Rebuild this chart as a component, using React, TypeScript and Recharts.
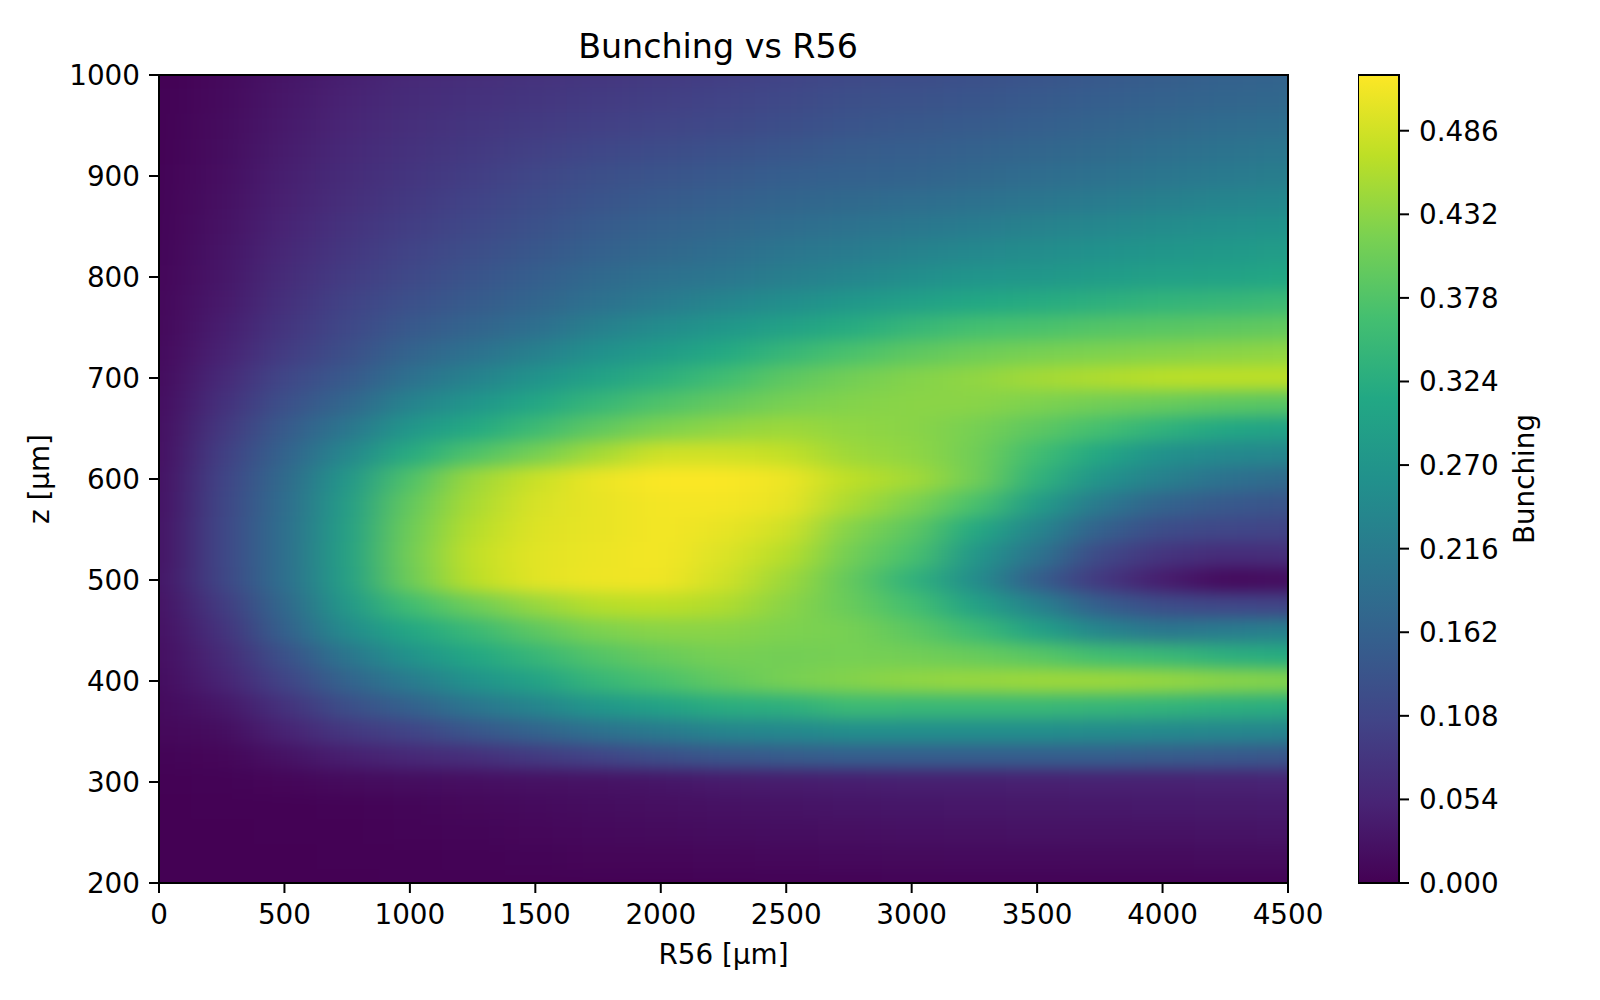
import { Bar, BarChart, ReferenceArea, Scatter, ScatterChart, XAxis, YAxis } from "recharts";

// --- Axes ---
const r56Values = [0, 250, 500, 750, 1000, 1250, 1500, 1750, 2000, 2250, 2500, 2750, 3000, 3250, 3500, 3750, 4000, 4250, 4500];
const xTicks = [0, 500, 1000, 1500, 2000, 2500, 3000, 3500, 4000, 4500];
const yTicks = [200, 300, 400, 500, 600, 700, 800, 900, 1000];
const colorbarTicks = [0, 0.054, 0.108, 0.162, 0.216, 0.27, 0.324, 0.378, 0.432, 0.486];
const colorbarMax = 0.522;

// --- Bunching, one row per z, columns follow r56Values ---
const z1000 = [0.000, 0.012, 0.030, 0.045, 0.060, 0.068, 0.075, 0.082, 0.088, 0.095, 0.105, 0.115, 0.120, 0.128, 0.135, 0.145, 0.152, 0.160, 0.165];
const z975 = [0.001, 0.014, 0.033, 0.050, 0.065, 0.074, 0.082, 0.090, 0.097, 0.104, 0.114, 0.125, 0.131, 0.138, 0.146, 0.155, 0.163, 0.170, 0.176];
const z950 = [0.002, 0.016, 0.036, 0.055, 0.070, 0.080, 0.089, 0.098, 0.106, 0.114, 0.124, 0.135, 0.143, 0.149, 0.157, 0.166, 0.175, 0.183, 0.190];
const z925 = [0.002, 0.018, 0.040, 0.060, 0.075, 0.087, 0.099, 0.111, 0.120, 0.129, 0.139, 0.150, 0.154, 0.162, 0.171, 0.180, 0.190, 0.198, 0.206];
const z900 = [0.003, 0.020, 0.044, 0.065, 0.080, 0.095, 0.110, 0.125, 0.135, 0.145, 0.155, 0.160, 0.165, 0.175, 0.185, 0.195, 0.205, 0.213, 0.222];
const z875 = [0.004, 0.022, 0.048, 0.070, 0.087, 0.103, 0.120, 0.135, 0.148, 0.158, 0.170, 0.178, 0.185, 0.195, 0.205, 0.215, 0.226, 0.235, 0.243];
const z850 = [0.005, 0.025, 0.053, 0.077, 0.095, 0.112, 0.130, 0.148, 0.162, 0.173, 0.185, 0.196, 0.207, 0.218, 0.229, 0.240, 0.250, 0.258, 0.266];
const z825 = [0.006, 0.028, 0.058, 0.084, 0.105, 0.123, 0.142, 0.160, 0.175, 0.188, 0.204, 0.215, 0.230, 0.243, 0.252, 0.263, 0.272, 0.280, 0.288];
const z800 = [0.008, 0.032, 0.065, 0.092, 0.115, 0.135, 0.155, 0.178, 0.195, 0.205, 0.222, 0.235, 0.255, 0.270, 0.275, 0.285, 0.295, 0.300, 0.310];
const z775 = [0.009, 0.036, 0.072, 0.102, 0.128, 0.148, 0.170, 0.195, 0.215, 0.235, 0.255, 0.275, 0.295, 0.310, 0.320, 0.330, 0.340, 0.345, 0.355];
const z750 = [0.010, 0.042, 0.080, 0.113, 0.145, 0.168, 0.190, 0.225, 0.250, 0.275, 0.298, 0.320, 0.345, 0.365, 0.370, 0.380, 0.385, 0.390, 0.395];
const z725 = [0.012, 0.049, 0.092, 0.126, 0.168, 0.195, 0.225, 0.260, 0.285, 0.315, 0.345, 0.370, 0.390, 0.405, 0.415, 0.420, 0.425, 0.430, 0.435];
const z700 = [0.015, 0.060, 0.110, 0.145, 0.195, 0.230, 0.265, 0.300, 0.330, 0.360, 0.390, 0.410, 0.425, 0.435, 0.450, 0.460, 0.468, 0.470, 0.470];
const z675 = [0.017, 0.072, 0.128, 0.172, 0.232, 0.270, 0.308, 0.345, 0.375, 0.395, 0.415, 0.425, 0.430, 0.430, 0.420, 0.410, 0.400, 0.390, 0.385];
const z650 = [0.019, 0.085, 0.148, 0.205, 0.275, 0.315, 0.355, 0.392, 0.420, 0.435, 0.445, 0.435, 0.430, 0.415, 0.390, 0.365, 0.335, 0.310, 0.300];
const z625 = [0.020, 0.096, 0.165, 0.240, 0.320, 0.375, 0.412, 0.450, 0.485, 0.485, 0.475, 0.445, 0.435, 0.410, 0.360, 0.310, 0.260, 0.245, 0.240];
const z600 = [0.022, 0.105, 0.180, 0.275, 0.375, 0.445, 0.480, 0.508, 0.520, 0.520, 0.510, 0.470, 0.450, 0.410, 0.335, 0.265, 0.225, 0.195, 0.180];
const z575 = [0.023, 0.108, 0.185, 0.288, 0.395, 0.455, 0.492, 0.505, 0.515, 0.515, 0.505, 0.455, 0.420, 0.370, 0.285, 0.210, 0.165, 0.145, 0.135];
const z550 = [0.025, 0.110, 0.190, 0.295, 0.405, 0.465, 0.497, 0.505, 0.515, 0.505, 0.485, 0.425, 0.390, 0.315, 0.235, 0.160, 0.120, 0.110, 0.105];
const z525 = [0.026, 0.110, 0.190, 0.298, 0.410, 0.475, 0.500, 0.508, 0.515, 0.495, 0.465, 0.410, 0.370, 0.275, 0.200, 0.115, 0.078, 0.065, 0.070];
const z500 = [0.028, 0.108, 0.190, 0.295, 0.405, 0.470, 0.500, 0.510, 0.512, 0.485, 0.445, 0.395, 0.335, 0.255, 0.155, 0.085, 0.040, 0.012, 0.018];
const z475 = [0.026, 0.090, 0.175, 0.280, 0.360, 0.405, 0.440, 0.465, 0.470, 0.460, 0.430, 0.400, 0.365, 0.300, 0.230, 0.155, 0.120, 0.110, 0.105];
const z450 = [0.023, 0.075, 0.160, 0.250, 0.310, 0.350, 0.390, 0.420, 0.430, 0.430, 0.420, 0.415, 0.390, 0.355, 0.300, 0.235, 0.205, 0.215, 0.225];
const z425 = [0.020, 0.062, 0.130, 0.205, 0.265, 0.310, 0.345, 0.380, 0.400, 0.415, 0.410, 0.415, 0.410, 0.400, 0.385, 0.360, 0.350, 0.330, 0.320];
const z400 = [0.017, 0.050, 0.105, 0.168, 0.215, 0.265, 0.300, 0.345, 0.370, 0.395, 0.415, 0.425, 0.435, 0.440, 0.445, 0.445, 0.440, 0.430, 0.425];
const z375 = [0.014, 0.032, 0.075, 0.125, 0.160, 0.205, 0.235, 0.275, 0.300, 0.325, 0.330, 0.355, 0.350, 0.350, 0.350, 0.345, 0.340, 0.330, 0.325];
const z350 = [0.010, 0.018, 0.050, 0.085, 0.105, 0.140, 0.165, 0.195, 0.212, 0.235, 0.242, 0.255, 0.255, 0.255, 0.255, 0.250, 0.245, 0.240, 0.235];
const z325 = [0.005, 0.008, 0.025, 0.045, 0.058, 0.070, 0.088, 0.105, 0.125, 0.140, 0.150, 0.155, 0.155, 0.155, 0.155, 0.155, 0.150, 0.145, 0.140];
const z300 = [0.002, 0.003, 0.008, 0.015, 0.018, 0.020, 0.024, 0.026, 0.030, 0.038, 0.040, 0.042, 0.044, 0.045, 0.046, 0.047, 0.048, 0.049, 0.050];
const z275 = [0.000, 0.001, 0.002, 0.003, 0.006, 0.010, 0.014, 0.018, 0.021, 0.024, 0.027, 0.030, 0.032, 0.033, 0.034, 0.035, 0.036, 0.037, 0.038];
const z250 = [0.000, 0.000, 0.001, 0.002, 0.004, 0.006, 0.009, 0.012, 0.015, 0.017, 0.019, 0.021, 0.023, 0.024, 0.025, 0.026, 0.026, 0.027, 0.028];
const z225 = [0.000, 0.000, 0.000, 0.001, 0.002, 0.003, 0.005, 0.007, 0.008, 0.009, 0.011, 0.012, 0.013, 0.014, 0.014, 0.015, 0.015, 0.016, 0.016];
const z200 = [0.000, 0.000, 0.000, 0.000, 0.001, 0.001, 0.002, 0.002, 0.002, 0.003, 0.003, 0.003, 0.004, 0.004, 0.004, 0.004, 0.005, 0.005, 0.005];

const rows: [number, number[]][] = [
  [1000, z1000], [975, z975], [950, z950], [925, z925], [900, z900], [875, z875], [850, z850], [825, z825],
  [800, z800], [775, z775], [750, z750], [725, z725], [700, z700], [675, z675], [650, z650], [625, z625],
  [600, z600], [575, z575], [550, z550], [525, z525], [500, z500], [475, z475], [450, z450], [425, z425],
  [400, z400], [375, z375], [350, z350], [325, z325], [300, z300], [275, z275], [250, z250], [225, z225], [200, z200],
];

const cells = rows.flatMap(([z, values]) =>
  values.map((bunching, i) => ({ r56: r56Values[i], z, bunching })),
);

// --- Colors ---
const VIRIDIS = ["#440154", "#482475", "#414487", "#355f8d", "#2a788e", "#21918c", "#22a884", "#44bf70", "#7ad151", "#bddf26", "#fde725"];

const hexToRgb = (hex: string) => [1, 3, 5].map((i) => parseInt(hex.slice(i, i + 2), 16));

const viridisColor = (value: number) => {
  const t = Math.min(value / colorbarMax, 1) * (VIRIDIS.length - 1);
  const i = Math.min(Math.floor(t), VIRIDIS.length - 2);
  const a = hexToRgb(VIRIDIS[i]);
  const b = hexToRgb(VIRIDIS[i + 1]);
  const mix = a.map((c, k) => Math.round(c + (b[k] - c) * (t - i)));
  return `rgb(${mix.join(",")})`;
};

// --- Layout ---
const PLOT = { left: 159, top: 75, right: 1288, bottom: 883 };
const CELL_W = (PLOT.right - PLOT.left) / (r56Values.length - 1);
const CELL_H = (PLOT.bottom - PLOT.top) / (rows.length - 1);
const BLEED = 90; // edge cells run past the frame so the blur does not fade there

const FONT = "'DejaVu Sans', sans-serif";
const tickStyle = { fill: "#000", fontSize: 27.8, fontFamily: FONT };
const tickLine = { stroke: "#000", strokeWidth: 2 };
const axisLine = { stroke: "#000", strokeWidth: 2 };
const labelStyle = { fill: "#000", fontSize: 27.8, fontFamily: FONT };

function HeatCell(props: any) {
  const { cx, cy, payload } = props;
  const x0 = payload.r56 === r56Values[0] ? cx - BLEED : cx - CELL_W / 2;
  const x1 = payload.r56 === r56Values[r56Values.length - 1] ? cx + BLEED : cx + CELL_W / 2 + 1;
  const y0 = payload.z === 1000 ? cy - BLEED : cy - CELL_H / 2;
  const y1 = payload.z === 200 ? cy + BLEED : cy + CELL_H / 2 + 1;
  return <rect x={x0} y={y0} width={x1 - x0} height={y1 - y0} fill={viridisColor(payload.bunching)} />;
}

export default function App() {
  return (
    <div style={{ position: "absolute", left: 0, top: 0, width: 1600, height: 1000, background: "#fff" }}>
      <style>{`.heat-cells { filter: url(#heat-blur); clip-path: url(#plot-clip); }`}</style>
      <svg width={0} height={0} style={{ position: "absolute" }}>
        <defs>
          <filter id="heat-blur" filterUnits="userSpaceOnUse" x={0} y={0} width={1600} height={1000} colorInterpolationFilters="sRGB">
            <feGaussianBlur stdDeviation="24 7.5" />
          </filter>
          {/* inset by the frame's half width so the frame stays whole */}
          <clipPath id="plot-clip">
            <rect x={PLOT.left + 1} y={PLOT.top + 1} width={PLOT.right - PLOT.left - 2} height={PLOT.bottom - PLOT.top - 2} />
          </clipPath>
          <linearGradient id="viridis-bar" x1="0" y1="1" x2="0" y2="0">
            {VIRIDIS.map((color, i) => (
              <stop key={color} offset={i / (VIRIDIS.length - 1)} stopColor={color} />
            ))}
          </linearGradient>
        </defs>
      </svg>

      <div style={{ position: "absolute", left: 418, width: 600, top: 27, textAlign: "center", fontFamily: FONT, fontSize: 33.3, lineHeight: "40px", color: "#000" }}>
        Bunching vs R56
      </div>

      <div style={{ position: "absolute", left: 0, top: 0 }}>
        <ScatterChart width={1330} height={1000} margin={{ top: PLOT.top, right: 1330 - PLOT.right, bottom: 0, left: 0 }}>
          <XAxis
            type="number"
            dataKey="r56"
            domain={[0, 4500]}
            ticks={xTicks}
            interval={0}
            height={1000 - PLOT.bottom}
            tick={tickStyle}
            tickLine={tickLine}
            axisLine={axisLine}
            tickSize={10}
            tickMargin={11}
            label={{ value: "R56 [µm]", position: "insideBottom", offset: 36, style: labelStyle }}
          />
          <YAxis
            type="number"
            dataKey="z"
            domain={[200, 1000]}
            ticks={yTicks}
            interval={0}
            width={PLOT.left}
            tick={tickStyle}
            tickLine={tickLine}
            axisLine={axisLine}
            tickSize={10}
            tickMargin={9}
            label={{ value: "z [µm]", angle: -90, position: "insideLeft", offset: 39, style: { ...labelStyle, textAnchor: "middle" } }}
          />
          <Scatter data={cells} shape={HeatCell} className="heat-cells" isAnimationActive={false} />
          <ReferenceArea x1={0} x2={4500} y1={200} y2={1000} fill="none" stroke="#000" strokeWidth={2} />
        </ScatterChart>
      </div>

      <div style={{ position: "absolute", left: 1358, top: 0 }}>
        <BarChart
          width={242}
          height={1000}
          data={[{ name: "Bunching", top: colorbarMax }]}
          margin={{ top: PLOT.top, right: 0, bottom: 1000 - PLOT.bottom, left: 0 }}
          barCategoryGap={0}
        >
          <XAxis dataKey="name" hide />
          <YAxis
            orientation="right"
            type="number"
            domain={[0, colorbarMax]}
            ticks={colorbarTicks}
            interval={0}
            width={201}
            tick={tickStyle}
            tickLine={tickLine}
            axisLine={false}
            tickSize={10}
            tickMargin={10}
            tickFormatter={(v: number) => v.toFixed(3)}
            label={{ value: "Bunching", angle: -90, position: "insideRight", offset: 76, style: { ...labelStyle, textAnchor: "middle" } }}
          />
          <Bar dataKey="top" fill="url(#viridis-bar)" stroke="#000" strokeWidth={2} isAnimationActive={false} />
        </BarChart>
      </div>
    </div>
  );
}
